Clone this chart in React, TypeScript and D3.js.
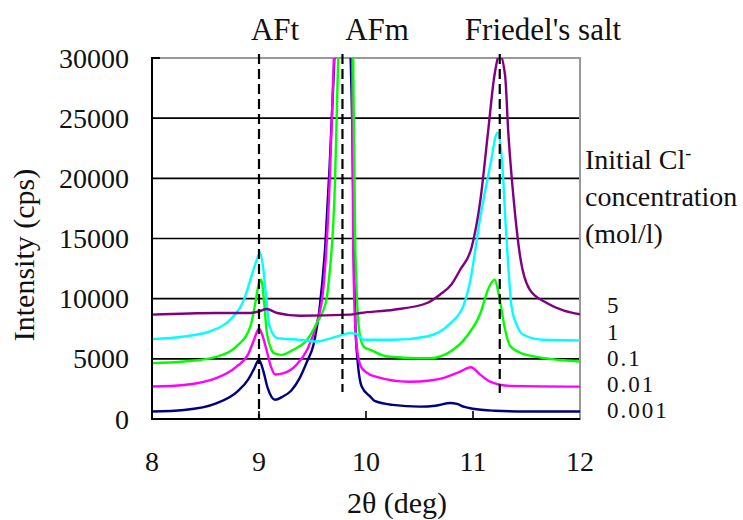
import React, { useEffect, useRef } from 'react';
import * as d3 from 'd3';

// 2θ / intensity pairs
const conc001: [number, number][] = [
  [8.0, 620], [8.3, 750], [8.6, 1300], [8.8, 2300], [8.9, 3300], [8.95, 4100], [9.0, 4900],
  [9.04, 4000], [9.08, 2600], [9.12, 1800], [9.15, 1600], [9.22, 1850], [9.3, 2350], [9.38, 3400],
  [9.45, 4800], [9.51, 6200], [9.57, 9500], [9.62, 14500], [9.66, 21000], [9.7, 29000], [9.73, 36000],
  [9.78, 40000], [9.83, 36000], [9.87, 25000], [9.9, 8000], [9.92, 5000], [9.96, 2700], [10.04, 1860],
  [10.08, 1500], [10.25, 1170], [10.5, 1030], [10.65, 1100], [10.79, 1330], [10.85, 1250], [10.92, 1000],
  [11.0, 850], [11.2, 690], [11.5, 620], [12.0, 620],
];
const conc01: [number, number][] = [
  [8.0, 2700], [8.3, 2830], [8.6, 3390], [8.79, 4360], [8.9, 5400], [8.95, 6500], [9.0, 7500],
  [9.03, 7000], [9.07, 5750], [9.11, 4400], [9.15, 3700], [9.23, 3810], [9.35, 4500], [9.45, 5750],
  [9.54, 7970], [9.6, 10750], [9.66, 19600], [9.7, 30000], [9.74, 38000], [9.78, 45000], [9.83, 40000],
  [9.87, 30000], [9.88, 14000], [9.91, 6330], [9.95, 4400], [10.0, 3900], [10.1, 3500], [10.4, 3100],
  [10.6, 3200], [10.72, 3390], [10.88, 3940], [10.98, 4300], [11.07, 3670], [11.16, 3110], [11.35, 2750],
  [12.0, 2690],
];
const conc1: [number, number][] = [
  [8.0, 4640], [8.3, 4780], [8.61, 5190], [8.79, 6030], [8.92, 7690], [8.96, 9360], [9.0, 11300],
  [9.02, 11580], [9.05, 9500], [9.07, 7420], [9.11, 5900], [9.14, 5470], [9.21, 5330], [9.32, 5750],
  [9.45, 6580], [9.54, 7970], [9.63, 9920], [9.65, 11300], [9.71, 19640], [9.74, 30000], [9.8, 48000],
  [9.86, 36000], [9.88, 30000], [9.9, 14080], [9.94, 7140], [9.98, 6000], [10.04, 5750], [10.2, 5190],
  [10.5, 5060], [10.6, 5060], [10.79, 5610], [10.94, 6860], [11.07, 8810], [11.14, 10750], [11.2, 11580],
  [11.25, 9920], [11.3, 7420], [11.35, 6030], [11.5, 5330], [12.0, 4780],
];
const concOne: [number, number][] = [
  [8.0, 6640], [8.3, 6860], [8.54, 7280], [8.73, 8250], [8.86, 9920], [8.92, 11580], [8.97, 13000],
  [9.01, 13800], [9.04, 12500], [9.06, 10750], [9.1, 7690], [9.17, 6720], [9.38, 6580], [9.54, 6440],
  [9.73, 6860], [9.85, 7140], [9.91, 7080], [9.98, 6580], [10.26, 6580], [10.57, 6860], [10.79, 7970],
  [10.91, 9400], [10.97, 11300], [11.07, 16860], [11.16, 21030], [11.23, 23800], [11.27, 21580],
  [11.31, 15470], [11.36, 9360], [11.41, 7800], [11.47, 7000], [11.66, 6580], [12.0, 6530],
];
const concFive: [number, number][] = [
  [8.0, 8670], [8.6, 8810], [8.92, 8810], [9.0, 8950], [9.07, 9140], [9.17, 8810], [9.38, 8580],
  [9.85, 8670], [9.95, 8810], [10.26, 9080], [10.57, 9640], [10.69, 10330], [10.8, 11200],
  [10.88, 12400], [10.99, 14360], [11.07, 18250], [11.14, 23800], [11.2, 28530], [11.25, 30300],
  [11.3, 28530], [11.33, 23800], [11.38, 18250], [11.44, 13530], [11.53, 10750], [11.69, 9640],
  [11.85, 9000], [12.0, 8700],
];

const seriesNames = ['0.001', '0.01', '0.1', '1', '5'];
const seriesData = [conc001, conc01, conc1, concOne, concFive];
const seriesColors = ['#000080', '#ff00ff', '#00ff00', '#00ffff', '#800080'];

const xTicks = [8, 9, 10, 11, 12];
const yTicks = [0, 5000, 10000, 15000, 20000, 25000, 30000];

const phaseNames = ['AFt', 'AFm', "Friedel's salt"];
const phasePositions = [9.0, 9.78, 11.25];
const phaseLineBottoms = [0, 2250, 2170];

const legendTitle = ['concentration', '(mol/l)'];
const legendOrder = ['5', '1', '0.1', '0.01', '0.001'];

const font = "'Liberation Serif', 'DejaVu Serif', 'Times New Roman', serif";

const App = () => {
  const ref = useRef<SVGSVGElement>(null);

  useEffect(() => {
    const svg = d3.select(ref.current);
    svg.selectAll('*').remove();

    const left = 152, right = 580, top = 58, bottom = 419;
    const x = d3.scaleLinear().domain([8, 12]).range([left, right]);
    const y = d3.scaleLinear().domain([0, 30000]).range([bottom, top]);

    svg.append('defs').append('clipPath').attr('id', 'plot')
      .append('rect').attr('x', left).attr('y', top).attr('width', right - left).attr('height', bottom - top);

    // grid
    svg.append('g').selectAll('line').data(yTicks.slice(1, -1)).enter().append('line')
      .attr('x1', left).attr('x2', right).attr('y1', (d) => y(d)).attr('y2', (d) => y(d))
      .attr('stroke', '#000').attr('stroke-width', 1.6);

    // frame
    svg.append('rect').attr('x', left).attr('y', top).attr('width', right - left).attr('height', bottom - top)
      .attr('fill', 'none').attr('stroke', '#999').attr('stroke-width', 2);

    // series
    const line = d3.line<[number, number]>().x((d) => x(d[0])).y((d) => y(d[1])).curve(d3.curveMonotoneX);
    svg.append('g').attr('clip-path', 'url(#plot)').selectAll('path').data(seriesData).enter().append('path')
      .attr('d', (d) => line(d))
      .attr('fill', 'none')
      .attr('stroke', (d, i) => seriesColors[i])
      .attr('stroke-width', 2.4)
      .attr('stroke-linejoin', 'round');

    // axes
    svg.append('line').attr('x1', left).attr('x2', left).attr('y1', top - 1).attr('y2', bottom + 1)
      .attr('stroke', '#000').attr('stroke-width', 2);
    svg.append('line').attr('x1', left).attr('x2', right).attr('y1', bottom).attr('y2', bottom)
      .attr('stroke', '#000').attr('stroke-width', 2);
    svg.append('line').attr('x1', left).attr('x2', left + 8).attr('y1', top).attr('y2', top)
      .attr('stroke', '#000').attr('stroke-width', 2);
    svg.append('g').selectAll('line').data(xTicks.slice(1, -1)).enter().append('line')
      .attr('x1', (d) => x(d)).attr('x2', (d) => x(d)).attr('y1', bottom).attr('y2', bottom - 8)
      .attr('stroke', '#000').attr('stroke-width', 1.6);

    // phase markers
    svg.append('g').selectAll('line').data(phasePositions).enter().append('line')
      .attr('x1', (d) => x(d)).attr('x2', (d) => x(d))
      .attr('y1', top - 4).attr('y2', (d, i) => y(phaseLineBottoms[i]))
      .attr('stroke', '#000').attr('stroke-width', 2.2).attr('stroke-dasharray', '10,5');

    const labelX = [275, 377, 543];
    svg.append('g').selectAll('text').data(phaseNames).enter().append('text')
      .attr('x', (d, i) => labelX[i]).attr('y', 40)
      .attr('text-anchor', 'middle').style('font-family', font).attr('font-size', 31).attr('fill', '#111')
      .text((d) => d);

    // tick labels
    svg.append('g').selectAll('text').data(yTicks).enter().append('text')
      .attr('x', 129).attr('y', (d) => y(d)).attr('dy', '0.34em')
      .attr('text-anchor', 'end').style('font-family', font).attr('font-size', 28).attr('fill', '#111')
      .text((d) => d);
    svg.append('g').selectAll('text').data(xTicks).enter().append('text')
      .attr('x', (d) => x(d)).attr('y', 471)
      .attr('text-anchor', 'middle').style('font-family', font).attr('font-size', 28).attr('fill', '#111')
      .text((d) => d);

    // axis titles
    svg.append('text').attr('x', 397).attr('y', 513).attr('text-anchor', 'middle')
      .style('font-family', font).attr('font-size', 30).attr('fill', '#111').text('2θ (deg)');
    svg.append('text').attr('transform', 'translate(34,255) rotate(-90)').attr('text-anchor', 'middle')
      .style('font-family', font).attr('font-size', 30).attr('fill', '#111').text('Intensity (cps)');

    // legend
    const title = svg.append('text').attr('x', 585).attr('y', 169)
      .style('font-family', font).attr('font-size', 28).attr('fill', '#111');
    title.append('tspan').text('Initial Cl');
    title.append('tspan').attr('dy', -10).attr('font-size', 18).text('-');
    svg.append('g').selectAll('text').data(legendTitle).enter().append('text')
      .attr('x', 585).attr('y', (d, i) => 206 + i * 37)
      .style('font-family', font).attr('font-size', 28).attr('fill', '#111')
      .text((d) => d);
    const legendY = [313, 340, 366, 392, 418];
    svg.append('g').selectAll('text').data(legendOrder).enter().append('text')
      .attr('x', 607).attr('y', (d, i) => legendY[i])
      .style('font-family', font).attr('font-size', 23).attr('letter-spacing', 2).attr('fill', '#111')
      .text((d) => d);
  }, []);

  return (
    <svg ref={ref} width={743} height={520} style={{ position: 'absolute', left: 0, top: 0, background: '#fff' }} />
  );
};

export default App;
